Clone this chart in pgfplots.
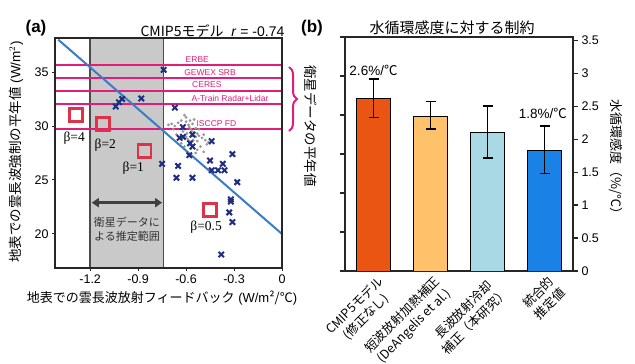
\documentclass[border=0pt]{standalone}
\usepackage{pgfplots}
\pgfplotsset{compat=1.18}
\usepackage{fontspec}
\setmainfont{Liberation Sans}
\newfontfamily\jp{Noto Sans CJK JP}
\newfontfamily\serifb{Liberation Serif}
\usetikzlibrary{arrows.meta,decorations.pathreplacing}
\definecolor{mag}{HTML}{E31C79}
\definecolor{navy}{HTML}{1F2E80}
\definecolor{lineblue}{HTML}{3B7DC4}
\definecolor{sqred}{HTML}{DE3249}
\definecolor{bandgray}{HTML}{C9C9C9}
\definecolor{cA}{HTML}{EA5514}
\definecolor{cB}{HTML}{FFC26B}
\definecolor{cC}{HTML}{A9D9E4}
\definecolor{cD}{HTML}{1A82E6}
\definecolor{axc}{HTML}{262626}
\begin{document}
\begin{tikzpicture}[x=1pt,y=1pt]
\useasboundingbox (0,0) rectangle (635,364);
% ---------------- panel (a)
\begin{axis}[at={(55pt,96pt)}, anchor=south west, width=227pt, height=230pt, scale only axis,
  xmin=-1.42, xmax=0, ymin=16.85, ymax=38.15,
  xtick={-1.2,-0.9,-0.6,-0.3,0}, ytick={20,25,30,35},
  tick align=outside, xtick pos=bottom, ytick pos=left,
  axis line style={line width=1.2pt, color=axc},
  major tick length=3pt, tick style={line width=1pt, color=axc},
  ticklabel style={font=\fontsize{12.5}{14}\selectfont},
  xticklabel style={/pgf/number format/fixed, /pgf/number format/precision=1},
  /pgf/number format/assume math mode=true,
  clip=true, axis on top]
\addplot[draw=none, fill=bandgray] coordinates {(-1.2,16.85) (-1.2,38.15) (-0.74,38.15) (-0.74,16.85) (-1.2,16.85)};
\addplot[line width=1.5pt, color=black!70] coordinates {(-1.2,16.85) (-1.2,38.15)};
\addplot[line width=1.5pt, color=black!70] coordinates {(-0.74,16.85) (-0.74,38.15)};
\draw[{Triangle[length=7pt,width=9pt]}-{Triangle[length=7pt,width=9pt]}, line width=2.8pt, color=black!75] (axis cs:-1.19,22.9) -- (axis cs:-0.75,22.9);
\node[align=center, font=\jp\fontsize{11}{14}\selectfont, text=black!80] at (axis cs:-0.97,20.4) {衛星データに\\よる推定範囲};
% gray dots
\addplot[only marks, mark=*, mark size=1.2pt, color=gray!80] coordinates {
(-0.71,30.1) (-0.69,30.2) (-0.67,30.0) (-0.65,30.3) (-0.63,30.5) (-0.61,31.0) (-0.60,30.8)
(-0.575,30.5) (-0.585,30.1) (-0.56,30.2) (-0.54,29.8) (-0.565,29.5) (-0.595,29.3) (-0.53,29.3)
(-0.52,29.1) (-0.50,28.9) (-0.48,28.7) (-0.46,28.5) (-0.555,28.7) (-0.575,28.4) (-0.61,28.1)
(-0.63,28.4) (-0.64,28.9) (-0.66,29.2) (-0.53,27.8) (-0.51,28.1) (-0.49,27.6) (-0.54,27.5)
(-0.585,27.5) (-0.62,29.5) (-0.52,29.7) (-0.49,29.2) (-0.54,29.0) (-0.56,29.1) (-0.59,28.8)
(-0.47,28.3) (-0.45,28.4) (-0.60,30.4) (-0.58,29.9) (-0.55,30.6) (-0.68,29.7) (-0.57,27.9)
(-0.55,29.4) (-0.57,29.7) (-0.53,28.6) (-0.60,29.0) (-0.58,28.6)};
% magenta satellite lines
\addplot[mag, line width=2pt] coordinates {(-1.42,35.65) (0,35.65)};
\addplot[mag, line width=2pt] coordinates {(-1.42,34.4) (0,34.4)};
\addplot[mag, line width=2pt] coordinates {(-1.42,33.25) (0,33.25)};
\addplot[mag, line width=2pt] coordinates {(-1.42,32.0) (0,32.0)};
\addplot[mag, line width=2pt] coordinates {(-1.42,29.7) (0,29.7)};
\node[text=mag, font=\fontsize{8.5}{9}\selectfont] at (axis cs:-0.53,36.15) {ERBE};
\node[text=mag, font=\fontsize{8.5}{9}\selectfont] at (axis cs:-0.45,34.95) {GEWEX SRB};
\node[text=mag, font=\fontsize{8.5}{9}\selectfont] at (axis cs:-0.47,33.8) {CERES};
\node[text=mag, font=\fontsize{8.5}{9}\selectfont] at (axis cs:-0.325,32.55) {A-Train Radar+Lidar};
\node[text=mag, font=\fontsize{8.5}{9}\selectfont] at (axis cs:-0.41,30.25) {ISCCP FD};
% regression line
\addplot[lineblue, line width=2pt] coordinates {(-1.40,38.0) (0,20.0)};
% model crosses
\addplot[only marks, mark=x, mark size=3.8pt, color=navy, mark options={line width=2pt}] coordinates {
(-0.74,35.2) (-1.04,31.8) (-1.00,32.5) (-1.02,32.2) (-0.88,32.55) (-0.67,31.7) (-0.62,29.9)
(-0.62,29.0) (-0.575,28.4) (-0.56,28.1) (-0.44,28.6) (-0.58,27.3) (-0.75,26.5) (-0.65,26.3)
(-0.66,25.2) (-0.56,25.2) (-0.45,26.8) (-0.44,25.9) (-0.40,25.9) (-0.37,26.5) (-0.36,25.9)
(-0.31,27.4) (-0.28,24.8) (-0.32,23.2) (-0.32,23.0) (-0.33,22.0) (-0.31,21.1) (-0.38,18.1)
(-0.56,29.2) (-0.64,28.9)};
% red squares
\addplot[only marks, mark=square, mark size=6.5pt, color=sqred, mark options={line width=2.8pt}] coordinates {
(-1.29,31.0) (-1.12,30.2) (-0.86,27.7) (-0.45,22.2)};
\node[font=\serifb\fontsize{13.5}{14}\selectfont] at (axis cs:-1.30,28.9) {β=4};
\node[font=\serifb\fontsize{13.5}{14}\selectfont] at (axis cs:-1.105,28.2) {β=2};
\node[font=\serifb\fontsize{13.5}{14}\selectfont] at (axis cs:-0.93,26.1) {β=1};
\node[font=\serifb\fontsize{13.5}{14}\selectfont] at (axis cs:-0.475,20.6) {β=0.5};
\end{axis}
\node[font=\bfseries\fontsize{17}{18}\selectfont] at (36,336) {(a)};
\node[anchor=west, font=\fontsize{14}{15}\selectfont] at (137,333) {{\jp CMIP5モデル}\ \ \textit{r} = -0.74};
\node[rotate=90, font=\fontsize{13.5}{14}\selectfont] at (16,212) {{\jp 地表での雲長波強制の平年値} (W/m$^{2}$)};
\node[font=\fontsize{13}{14}\selectfont] at (162,66) {{\jp 地表での雲長波放射フィードバック} (W/m{\jp ²/℃})};
\draw[mag, line width=2pt, decorate, decoration={brace, amplitude=8pt}] (289,297) -- (289,233);
\node[rotate=-90, font=\jp\fontsize{13.5}{14}\selectfont] at (311,238) {衛星データの平年値};
% ---------------- panel (b)
\begin{axis}[at={(345pt,93pt)}, anchor=south west, width=228pt, height=234pt, scale only axis,
  xmin=-0.5, xmax=3.5, ymin=0, ymax=6, ytick={0,1,2,3,4,5,6}, yticklabels={}, xtick=\empty,
  ytick pos=left, tick align=outside, major tick length=5pt,
  axis line style={line width=1.2pt, color=axc}, tick style={line width=1.2pt, color=axc}]
\end{axis}
\begin{axis}[at={(345pt,93pt)}, anchor=south west, width=228pt, height=234pt, scale only axis,
  xmin=-0.5, xmax=3.5, ymin=0, ymax=3.55, ytick={0,0.5,...,3.5},
  ytick pos=right, yticklabel pos=right, tick align=outside, major tick length=5pt,
  axis line style={line width=1.2pt, color=axc}, tick style={line width=1.2pt, color=axc},
  xtick={0,1,2,3}, x tick style={draw=none},
  xticklabels={{CMIP5モデル\\(修正なし)},{短波放射加熱補正\\(DeAngelis et al.)},{長波放射冷却\\補正（本研究）},{統合的\\推定値}},
  xticklabel style={rotate=45, anchor=north east, align=center, font=\jp\fontsize{12.5}{16}\selectfont, inner sep=1pt, xshift=4pt},
  yticklabel style={font=\fontsize{12.5}{14}\selectfont},
  /pgf/number format/assume math mode=true]
\addplot[ybar, bar shift=0pt, bar width=0.6, fill=cA, draw=black, line width=0.8pt,
  error bars/.cd, y dir=both, y explicit, error bar style={line width=1.8pt, black}, error mark options={rotate=90, mark size=5pt, line width=1.8pt, black}]
  coordinates {(0,2.62) += (0,0.29) -= (0,0.29)};
\addplot[ybar, bar shift=0pt, bar width=0.6, fill=cB, draw=black, line width=0.8pt,
  error bars/.cd, y dir=both, y explicit, error bar style={line width=1.8pt, black}, error mark options={rotate=90, mark size=5pt, line width=1.8pt, black}]
  coordinates {(1,2.35) += (0,0.22) -= (0,0.20)};
\addplot[ybar, bar shift=0pt, bar width=0.6, fill=cC, draw=black, line width=0.8pt,
  error bars/.cd, y dir=both, y explicit, error bar style={line width=1.8pt, black}, error mark options={rotate=90, mark size=5pt, line width=1.8pt, black}]
  coordinates {(2,2.10) += (0,0.40) -= (0,0.39)};
\addplot[ybar, bar shift=0pt, bar width=0.6, fill=cD, draw=black, line width=0.8pt,
  error bars/.cd, y dir=both, y explicit, error bar style={line width=1.8pt, black}, error mark options={rotate=90, mark size=5pt, line width=1.8pt, black}]
  coordinates {(3,1.83) += (0,0.37) -= (0,0.35)};
\node[font=\fontsize{13.5}{14}\selectfont] at (axis cs:0,3.05) {2.6\%/{\jp ℃}};
\node[font=\fontsize{13.5}{14}\selectfont] at (axis cs:2.97,2.39) {1.8\%/{\jp ℃}};
\end{axis}
\node[font=\bfseries\fontsize{17}{18}\selectfont] at (312,336) {(b)};
\node[font=\jp\fontsize{15}{16}\selectfont] at (452,336) {水循環感度に対する制約};
\node[rotate=-90, font=\jp\fontsize{13}{14}\selectfont] at (616,204) {水循環感度（\%/℃）};
\end{tikzpicture}
\end{document}
